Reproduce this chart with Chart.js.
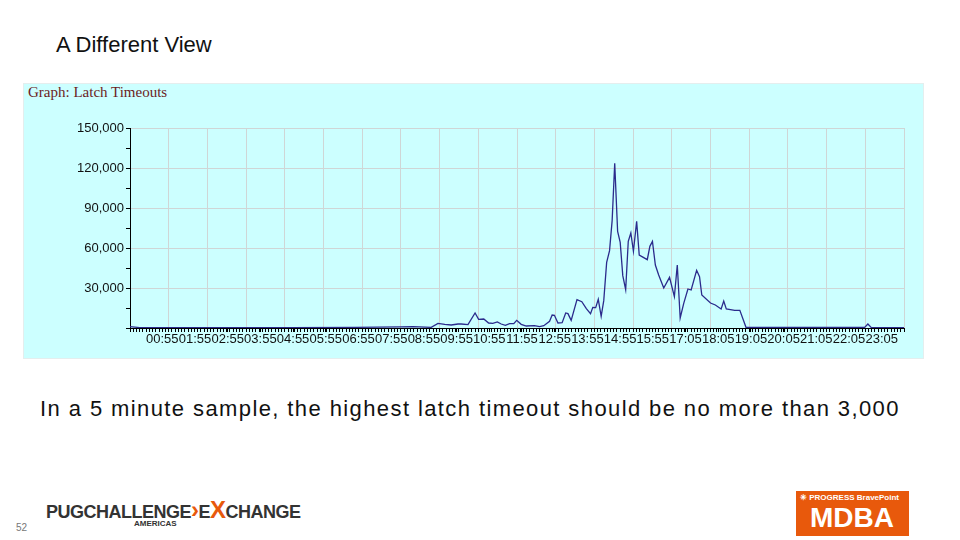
<!DOCTYPE html>
<html>
<head>
<meta charset="utf-8">
<script src="https://cdn.jsdelivr.net/npm/chart.js@4"></script>
<style>
  body { margin: 0; width: 960px; height: 540px; background: #fff; position: relative; overflow: hidden; font-family: "Liberation Sans", Arial, sans-serif; }
  #title { position: absolute; left: 56px; top: 32px; font-size: 22px; color: #111; }
  #panel { position: absolute; left: 23px; top: 83px; width: 899px; height: 274px; background: #ccffff; border: 1px solid #e4eeee; }
  #graphTitle { position: absolute; left: 4px; top: 0px; font-family: "Liberation Serif", serif; font-size: 15px; color: #6b1c1c; }
  #latchChart { position: absolute; left: 0; top: 0; }
  #caption { position: absolute; left: 0; width: 940px; top: 396px; text-align: center; font-size: 22px; color: #111; letter-spacing: 1.4px; }
  #page { position: absolute; left: 16px; top: 522px; font-size: 10px; color: #777; }
  #pug { position: absolute; left: 46px; top: 496px; font-weight: bold; font-size: 18px; color: #333; letter-spacing: -0.5px; white-space: nowrap; }
  #pug .x { color: #e8590c; font-size: 24px; }
  #amer { position: absolute; left: 134px; top: 519px; font-weight: bold; font-size: 8px; color: #333; }
  #mdba { position: absolute; left: 796px; top: 491px; width: 113px; height: 45px; background: #e8590c; color: #fff; }
  #mdba .top { font-size: 8px; font-weight: bold; padding: 2px 0 0 4px; white-space: nowrap; }
  #mdba .big { font-size: 28px; font-weight: bold; padding-left: 14px; line-height: 32px; }
</style>
</head>
<body>
<div id="title">A Different View</div>
<div id="panel">
  <div id="graphTitle">Graph: Latch Timeouts</div>
  <canvas id="latchChart" width="899" height="274"></canvas>
</div>
<div id="caption">In a 5 minute sample, the highest latch timeout should be no more than 3,000</div>
<div id="page">52</div>
<div id="pug">PUGCHALLENGE<span class="x">›</span>E<span class="x">X</span>CHANGE</div>
<div id="amer">AMERICAS</div>
<div id="mdba"><div class="top">✳ PROGRESS BravePoint</div><div class="big">MDBA</div></div>
<script>
// sample index (5 minute steps) and latch timeout counts
const sampleX = [0, 3, 20, 50, 70, 84.2, 87.7, 93.4, 95.5, 97.6, 99.6, 101.7,
  102.7, 104.8, 107.0, 108.1, 109.7, 111.2, 112.5, 113.9, 115.1, 116.4, 117.7, 119.0, 119.9,
  121.3, 122.9, 125.4, 127.0, 128.3, 130.1, 130.9, 131.6, 132.7, 134.0, 135.1, 135.8, 136.8,
  138.6, 140.1, 141.5, 142.8, 143.5, 144.4, 145.2, 146.1, 146.9, 147.8, 148.7, 149.5, 150.3,
  151.2, 152.0, 152.8, 153.7, 154.5, 155.3, 156.1, 157.1, 157.9, 160.4, 161.2, 162.0, 162.9,
  163.9, 165.5, 167.3, 168.8, 169.7, 170.6, 171.7, 173.0, 174.0, 175.7, 176.6, 177.3, 180.0,
  181.5, 183.3, 184.1, 184.9, 187.5, 189.1, 191.0, 227.8, 228.8, 229.8, 240];
const timeouts = [1000, 300, 200, 300, 500, 800, 1000, 500, 3500, 2750, 2250, 3000,
  3000, 2500, 11250, 6500, 6750, 3750, 3500, 4500, 3000, 2000, 3250, 3250, 5750,
  2750, 1500, 1750, 1000, 1750, 5000, 9750, 9500, 3750, 4000, 11250, 10750, 5750,
  21250, 19750, 14500, 10750, 15500, 15250, 21500, 8750, 20500, 49250, 58000, 80500, 123500,
  72500, 64250, 39250, 28750, 65000, 71250, 57500, 80000, 54750, 51250, 61250, 65000, 47250,
  40000, 30000, 38000, 23500, 47250, 7500, 18500, 29250, 28500, 43250, 38500, 24750, 18750,
  17250, 14250, 20250, 14250, 13250, 13250, 500, 500, 3000, 500, 300];
const tickLabels = ["00:55", "01:55", "02:55", "03:55", "04:55", "05:55", "06:55", "07:55",
  "08:55", "09:55", "10:55", "11:55", "12:55", "13:55", "14:55", "15:55", "17:05", "18:05",
  "19:05", "20:05", "21:05", "22:05", "23:05"];

// label ticks spread evenly, sample ticks every 5 minutes
const labelTicks = tickLabels.map((t, i) => ({ value: 10.01 + i * 10.14, label: t }));

const ctx = document.getElementById("latchChart").getContext("2d");
new Chart(ctx, {
  type: "line",
  data: {
    datasets: [{
      data: sampleX.map((x, i) => ({ x: x, y: timeouts[i] })),
      borderColor: "#2b2b8c",
      borderWidth: 1.3,
      pointRadius: 0,
      tension: 0
    }]
  },
  options: {
    responsive: false,
    animation: false,
    layout: { padding: { top: 44, right: 19, left: 0, bottom: 0 } },
    plugins: { legend: { display: false }, tooltip: { enabled: false } },
    scales: {
      x: {
        type: "linear",
        min: 0,
        max: 240,
        afterFit: (s) => { s.height = 30; },
        afterBuildTicks: (s) => {
          const t = [];
          for (let i = 0; i <= 240; i++) t.push({ value: i });
          labelTicks.forEach((l) => t.push({ value: l.value }));
          s.ticks = t.sort((a, b) => a.value - b.value);
        },
        border: { color: "#000", width: 1 },
        grid: {
          color: (c) => (c.tick && c.tick.value % 12 === 0 && c.tick.value > 0) ? "#cfd6d6" : "rgba(0,0,0,0)",
          tickColor: "#000",
          tickLength: 4
        },
        ticks: {
          autoSkip: false,
          maxRotation: 0,
          padding: 0,
          color: "#111",
          font: { family: "Liberation Sans, Arial", size: 13 },
          callback: (v) => {
            const l = labelTicks.find((lt) => lt.value === v);
            return l ? l.label : "";
          }
        }
      },
      y: {
        min: 0,
        max: 150000,
        afterFit: (s) => { s.width = 106; },
        border: { color: "#000", width: 1 },
        grid: {
          color: (c) => (c.tick && c.tick.value % 30000 === 0) ? "#cfd6d6" : "rgba(0,0,0,0)",
          tickColor: "#000",
          tickLength: 4
        },
        ticks: {
          stepSize: 15000,
          color: "#111",
          padding: 2,
          font: { family: "Liberation Sans, Arial", size: 13 },
          callback: (v) => (v % 30000 === 0 && v > 0) ? v.toLocaleString("en-US") : ""
        }
      }
    }
  }
});
</script>
</body>
</html>
